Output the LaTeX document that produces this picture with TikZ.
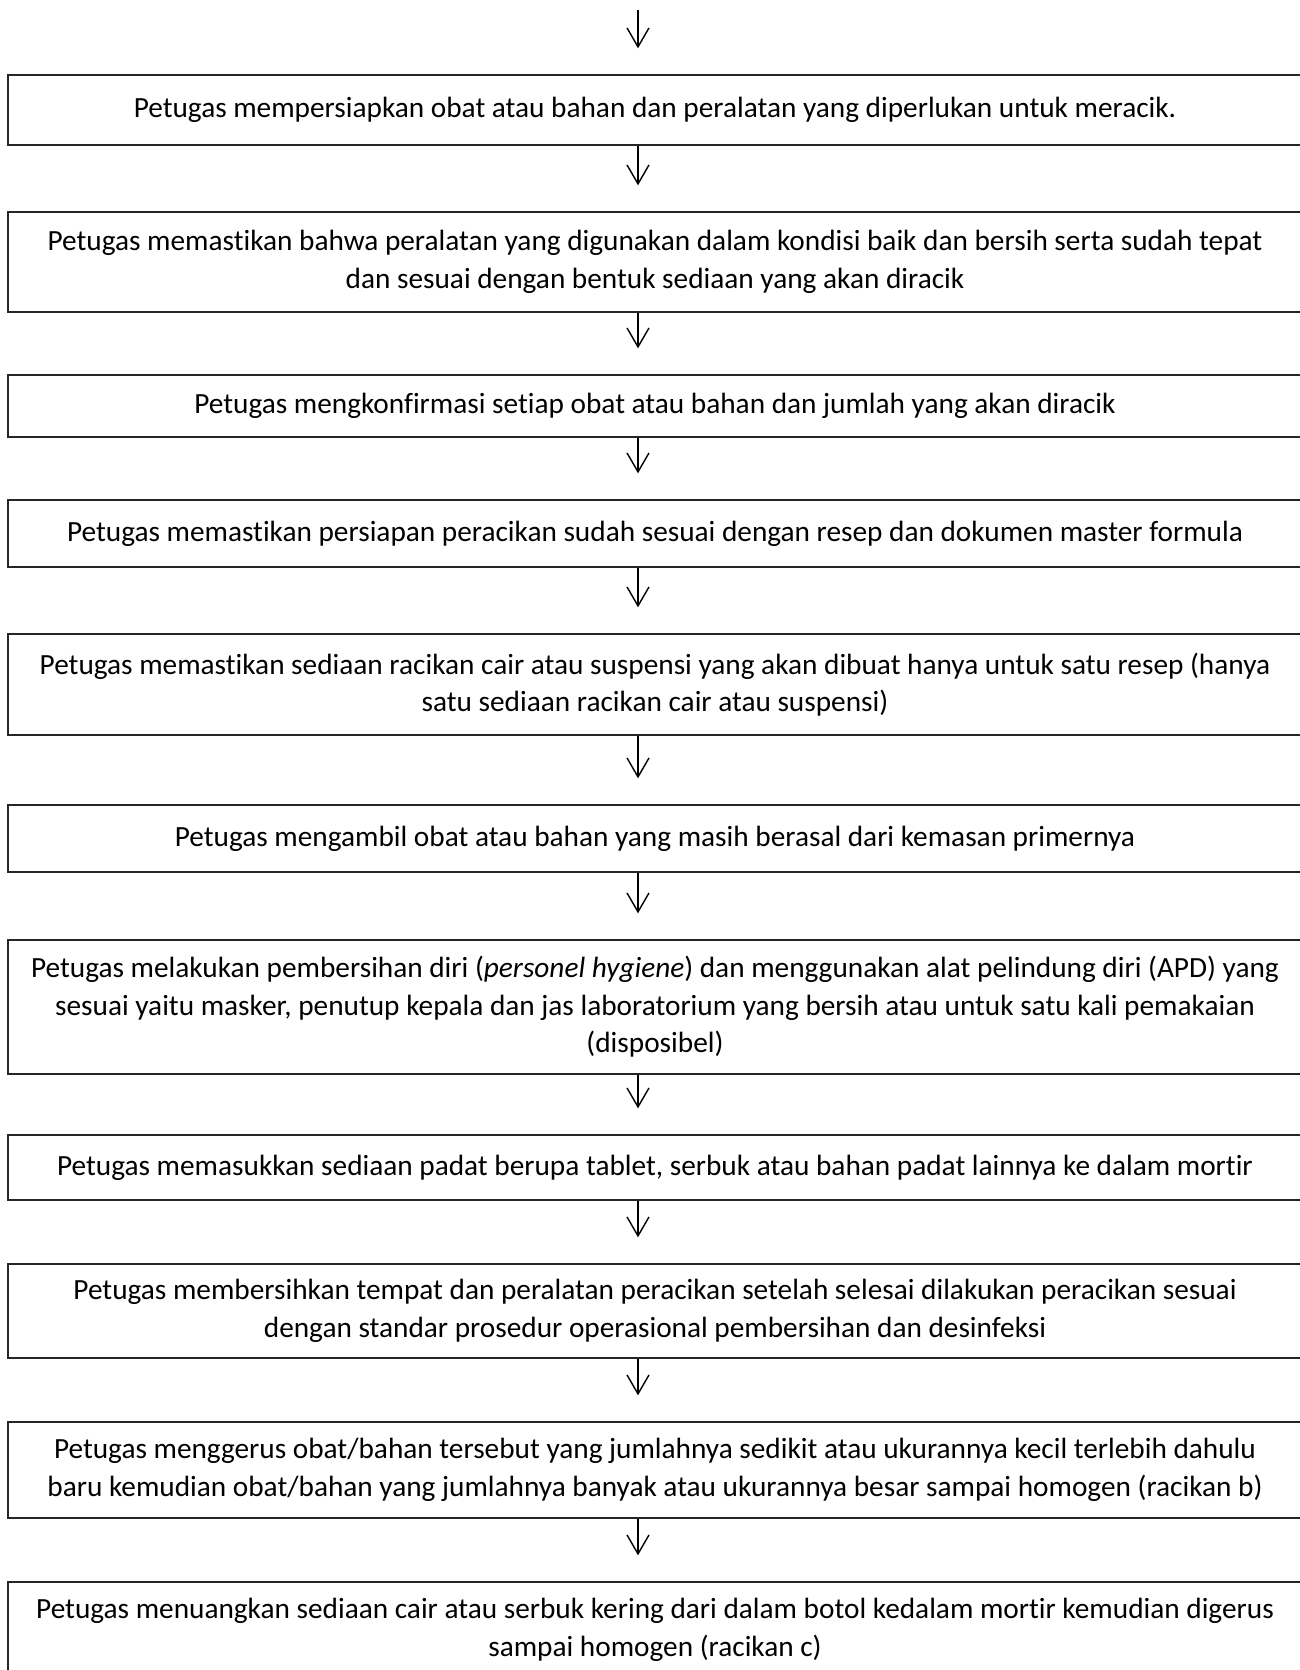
\documentclass[tikz,border=0pt]{standalone}
\usepackage{fontspec}
\setmainfont{Carlito}[Ligatures={NoCommon,NoContextual}]
\usetikzlibrary{arrows.meta,calc}
\begin{document}
\begin{tikzpicture}[x=1pt,y=-1pt,
  stepbox/.style={draw=black!85,line width=1.4pt,minimum width=1294pt,inner sep=0pt,align=center,
    font=\fontsize{29.3}{37.5}\selectfont},
  arr/.style={draw=black,line width=1.4pt,-{Straight Barb[length=19pt,width=22pt,line width=1.4pt]}}]
\useasboundingbox[fill=white] (0,0) rectangle (1300,1670);
\coordinate (top) at (638,10);
\node[stepbox,minimum height=70pt] (b1) at (655,110) {Petugas mempersiapkan obat atau bahan dan peralatan yang diperlukan untuk meracik.};
\node[stepbox,minimum height=100pt] (b2) at (655,262) {Petugas memastikan bahwa peralatan yang digunakan dalam kondisi baik dan bersih serta sudah tepat\\dan sesuai dengan bentuk sediaan yang akan diracik};
\node[stepbox,minimum height=62pt] (b3) at (655,406) {Petugas mengkonfirmasi setiap obat atau bahan dan jumlah yang akan diracik};
\node[stepbox,minimum height=67pt] (b4) at (655,533.5) {Petugas memastikan persiapan peracikan sudah sesuai dengan resep dan dokumen master formula};
\node[stepbox,minimum height=101pt] (b5) at (655,684.5) {Petugas memastikan sediaan racikan cair atau suspensi yang akan dibuat hanya untuk satu resep (hanya\\satu sediaan racikan cair atau suspensi)};
\node[stepbox,minimum height=67pt] (b6) at (655,838.5) {Petugas mengambil obat atau bahan yang masih berasal dari kemasan primernya};
\node[stepbox,minimum height=134pt] (b7) at (655,1007) {Petugas melakukan pembersihan diri (\textit{personel hygiene}) dan menggunakan alat pelindung diri (APD) yang\\sesuai yaitu masker, penutup kepala dan jas laboratorium yang bersih atau untuk satu kali pemakaian\\(disposibel)};
\node[stepbox,minimum height=65pt] (b8) at (655,1167.5) {Petugas memasukkan sediaan padat berupa tablet, serbuk atau bahan padat lainnya ke dalam mortir};
\node[stepbox,minimum height=94pt] (b9) at (655,1311) {Petugas membersihkan tempat dan peralatan peracikan setelah selesai dilakukan peracikan sesuai\\dengan standar prosedur operasional pembersihan dan desinfeksi};
\node[stepbox,minimum height=96pt] (b10) at (655,1470) {Petugas menggerus obat/bahan tersebut yang jumlahnya sedikit atau ukurannya kecil terlebih dahulu\\baru kemudian obat/bahan yang jumlahnya banyak atau ukurannya besar sampai homogen (racikan b)};
\node[stepbox,minimum height=96pt] (b11) at (655,1630) {Petugas menuangkan sediaan cair atau serbuk kering dari dalam botol kedalam mortir kemudian digerus\\sampai homogen (racikan c)};
\draw[arr] (top) -- ([xshift=-17pt,yshift=26pt]b1.north);
\foreach \a/\b in {b1/b2,b2/b3,b3/b4,b4/b5,b5/b6,b6/b7,b7/b8,b8/b9,b9/b10,b10/b11}
  \draw[arr] ([xshift=-17pt]\a.south) -- ([xshift=-17pt,yshift=26pt]\b.north);
\end{tikzpicture}
\end{document}
